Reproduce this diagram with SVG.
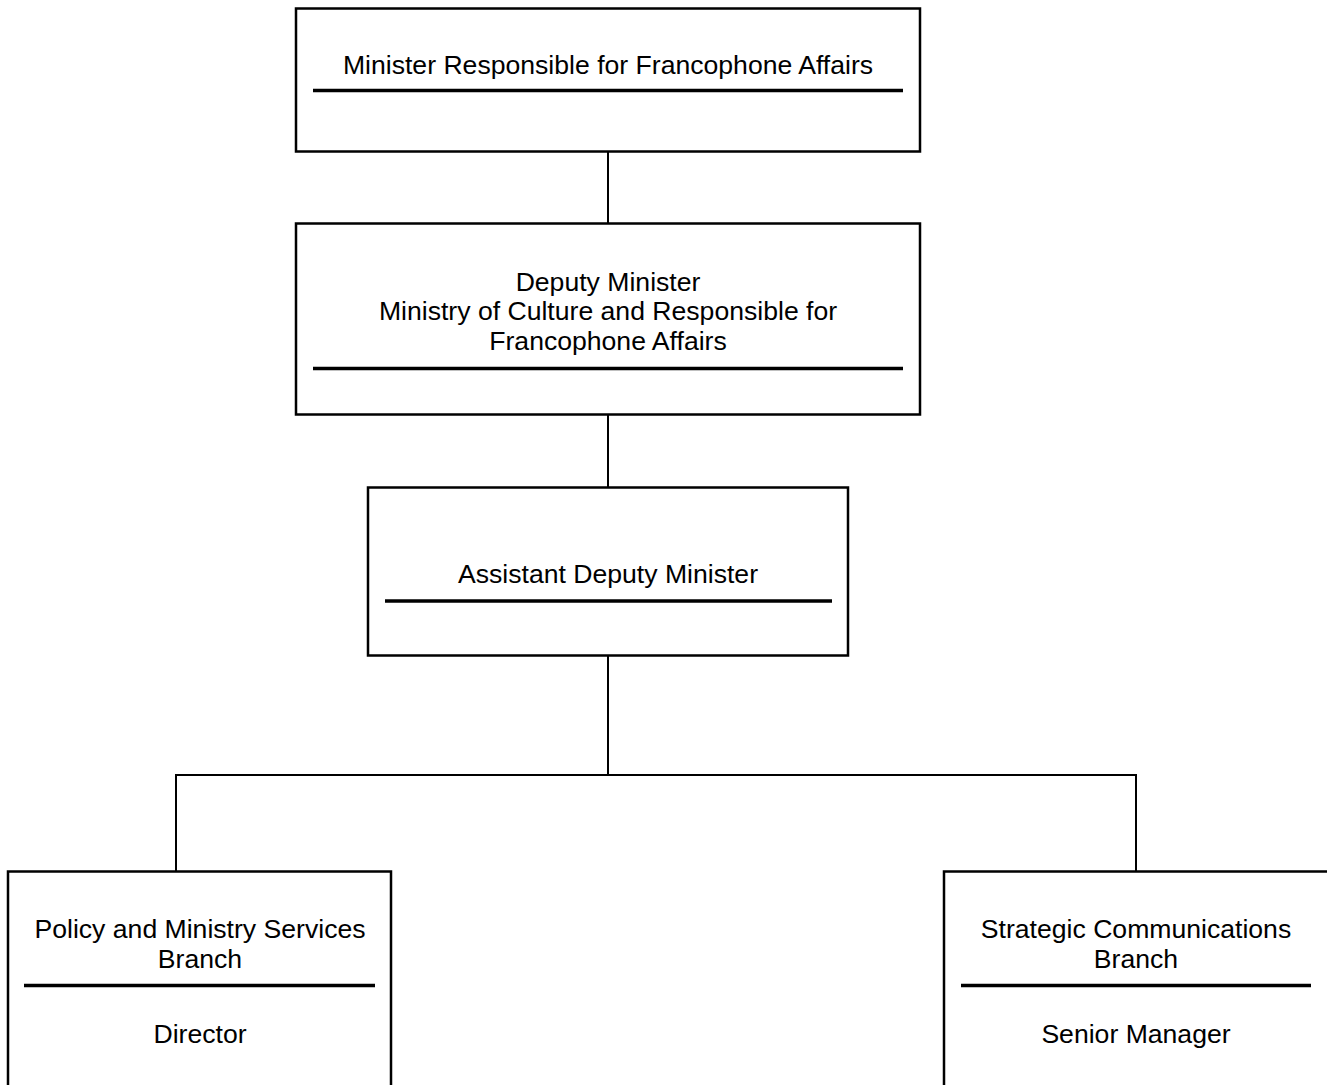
<svg xmlns="http://www.w3.org/2000/svg" width="1327" height="1085" viewBox="0 0 1327 1085">
<style>
.box{fill:#fff;stroke:#000;stroke-width:2.5}
.rule{stroke:#000;stroke-width:3.5}
.conn{stroke:#000;stroke-width:2;fill:none}
text{font-family:"Liberation Sans",Arial,sans-serif;font-size:26.6px;fill:#000;text-anchor:middle}
</style>
<rect width="1327" height="1085" fill="#fff"/>
<g id="connectors">
<line class="conn" x1="608" y1="151" x2="608" y2="223"/>
<line class="conn" x1="608" y1="414" x2="608" y2="487"/>
<polyline class="conn" points="608,655 608,775"/>
<polyline class="conn" points="176,871 176,775 1136,775 1136,871"/>
</g>
<g id="minister">
<rect class="box" x="296" y="8.5" width="624" height="143"/>
<text x="608" y="74">Minister Responsible for Francophone Affairs</text>
<line class="rule" x1="313" y1="90.5" x2="903" y2="90.5"/>
</g>
<g id="deputy-minister">
<rect class="box" x="296" y="223.5" width="624" height="191"/>
<text x="608" y="291">Deputy Minister</text>
<text x="608" y="320">Ministry of Culture and Responsible for</text>
<text x="608" y="350">Francophone Affairs</text>
<line class="rule" x1="313" y1="368.5" x2="903" y2="368.5"/>
</g>
<g id="adm">
<rect class="box" x="368" y="487.5" width="480" height="168"/>
<text x="608" y="583">Assistant Deputy Minister</text>
<line class="rule" x1="385" y1="601" x2="832" y2="601"/>
</g>
<g id="policy-branch">
<rect class="box" x="8" y="871.5" width="383" height="230"/>
<text x="200" y="938">Policy and Ministry Services</text>
<text x="200" y="968">Branch</text>
<line class="rule" x1="24" y1="985.5" x2="375" y2="985.5"/>
<text x="200" y="1043">Director</text>
</g>
<g id="comms-branch">
<rect class="box" x="944" y="871.5" width="400" height="230"/>
<text x="1136" y="938">Strategic Communications</text>
<text x="1136" y="968">Branch</text>
<line class="rule" x1="961" y1="985.5" x2="1311" y2="985.5"/>
<text x="1136" y="1043">Senior Manager</text>
</g>
</svg>
